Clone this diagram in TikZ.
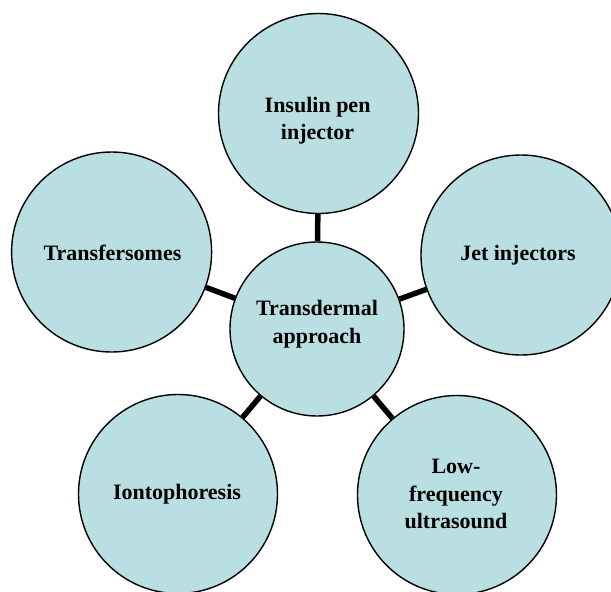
\documentclass[tikz,border=0pt]{standalone}
\usepackage{fontspec}
\setmainfont{Liberation Serif}
\definecolor{bubble}{RGB}{185,223,227}
\tikzset{
  bub/.style={circle, draw=black, line width=1.4pt, fill=bubble, minimum size=#1, inner sep=0pt},
  lbl/.style={align=center, inner sep=0pt, font=\fontsize{22}{27.5}\selectfont\bfseries},
  link/.style={line width=5.5pt, black}
}
\begin{document}
\begin{tikzpicture}[x=1pt,y=-1pt]
\useasboundingbox (0,0) rectangle (611,592);
\begin{scope}
\clip (0,0) rectangle (611,592);
\node[bub=200pt] (top) at (318.5,113.5) {};
\node[bub=200pt] (left) at (111.6,252) {};
\node[bub=200pt] (right) at (521,255) {};
\node[bub=199pt] (bl) at (178,494) {};
\node[bub=199pt] (br) at (457,495) {};
\node[bub=174pt] (c) at (317,329) {};
\draw[link] (c) -- (top);
\draw[link] (c) -- (left);
\draw[link] (c) -- (right);
\draw[link] (c) -- (bl);
\draw[link] (c) -- (br);
\node[lbl] (ttop) at (317.6,120.5) {Insulin pen\\injector};
\node[lbl] (tleft) at (112.5,252.7) {Transfersomes};
\node[lbl] (tright) at (518,255) {Jet injectors};
\node[lbl] (tbl) at (177,494) {Iontophoresis};
\node[lbl] (tbr) at (456,494) {Low-\\frequency\\ultrasound};
\node[lbl] (tc) at (317,324) {Transdermal\\approach};
\end{scope}
\end{tikzpicture}
\end{document}
